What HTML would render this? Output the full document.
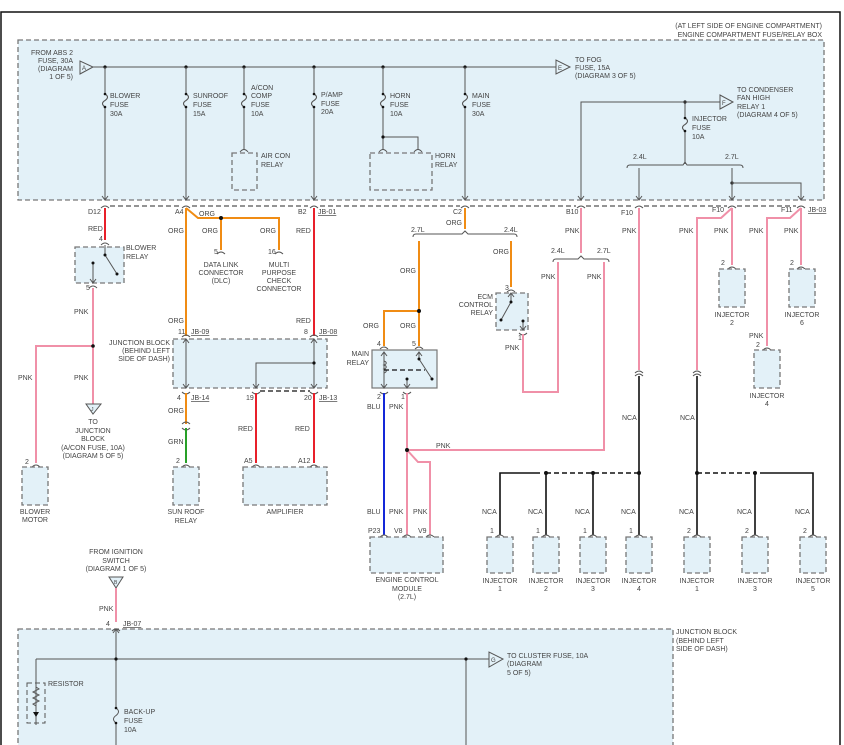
<!DOCTYPE html>
<html><head><meta charset="utf-8"><style>
html,body{margin:0;padding:0;background:#fff}
svg{display:block}
text{font-family:"Liberation Sans",sans-serif;font-size:7px;fill:#444}
.bx{fill:#e3f1f8;stroke:#777;stroke-width:1.3;stroke-dasharray:5,3}
.g{stroke:#555;stroke-width:1;fill:none}
.k{stroke:#111;stroke-width:1.6;fill:none}
.r{stroke:#e8202a;stroke-width:2;fill:none}
.o{stroke:#f08c14;stroke-width:2;fill:none}
.p{stroke:#f090a8;stroke-width:2;fill:none}
.b{stroke:#1428d8;stroke-width:2;fill:none}
.gr{stroke:#28a028;stroke-width:2;fill:none}
.d{stroke:#555;stroke-width:1.3;stroke-dasharray:5,3;fill:none}
.dk{stroke:#111;stroke-width:1.6;stroke-dasharray:5,3;fill:none}
.c{text-anchor:middle}
.e{text-anchor:end}
</style></head><body>
<svg width="844" height="745" viewBox="0 0 844 745" xmlns="http://www.w3.org/2000/svg">
<rect x="1" y="12" width="839" height="740" fill="#fff" stroke="#111" stroke-width="1.5"/>
<rect class="bx" x="18" y="40" width="806" height="160"/>
<text class="e" x="822" y="28">(AT LEFT SIDE OF ENGINE COMPARTMENT)</text>
<text class="e" x="822" y="37">ENGINE COMPARTMENT FUSE/RELAY BOX</text>
<text class="e" x="73" y="55">FROM ABS 2</text><text class="e" x="73" y="63">FUSE, 30A</text><text class="e" x="73" y="71">(DIAGRAM</text><text class="e" x="73" y="79">1 OF 5)</text>
<polygon points="80,61 80,74 93,67" fill="#e3f1f8" stroke="#555"/><text x="82" y="70" style="font-size:6px">A</text>
<line class="g" x1="93" y1="67" x2="556" y2="67"/>
<polygon points="556,60 556,74 570,67" fill="#e3f1f8" stroke="#555"/><text x="558" y="70" style="font-size:6px">E</text>
<text x="575" y="62">TO FOG</text><text x="575" y="70">FUSE, 15A</text><text x="575" y="78">(DIAGRAM 3 OF 5)</text>
<g fill="#111">
<circle cx="105" cy="67" r="1.6"/><circle cx="186" cy="67" r="1.6"/><circle cx="244" cy="67" r="1.6"/><circle cx="314" cy="67" r="1.6"/><circle cx="383" cy="67" r="1.6"/><circle cx="465" cy="67" r="1.6"/>
</g>
<g class="g">
<path d="M105 67V94 M105 107V200 M102 196L105 200L108 196"/>
<path d="M186 67V94 M186 107V200 M183 196L186 200L189 196"/>
<path d="M244 67V94 M244 107V150"/>
<path d="M314 67V94 M314 107V200 M311 196L314 200L317 196"/>
<path d="M383 67V94 M383 107V150 M383 137H418V150"/>
<path d="M465 67V94 M465 107V200 M462 196L465 200L468 196"/>
<path d="M685 102V118 M685 131V164"/>
</g>
<g class="g" style="stroke-width:1.1">
<path d="M105 94q5 3 0 6.5q-5 3 0 6.5"/><path d="M186 94q5 3 0 6.5q-5 3 0 6.5"/><path d="M244 94q5 3 0 6.5q-5 3 0 6.5"/><path d="M314 94q5 3 0 6.5q-5 3 0 6.5"/><path d="M383 94q5 3 0 6.5q-5 3 0 6.5"/><path d="M465 94q5 3 0 6.5q-5 3 0 6.5"/><path d="M685 118q5 3 0 6.5q-5 3 0 6.5"/>
</g>
<g fill="#111">
<circle cx="105" cy="94" r="1.3"/><circle cx="105" cy="107" r="1.3"/><circle cx="186" cy="94" r="1.3"/><circle cx="186" cy="107" r="1.3"/><circle cx="244" cy="94" r="1.3"/><circle cx="244" cy="107" r="1.3"/><circle cx="314" cy="94" r="1.3"/><circle cx="314" cy="107" r="1.3"/><circle cx="383" cy="94" r="1.3"/><circle cx="383" cy="107" r="1.3"/><circle cx="465" cy="94" r="1.3"/><circle cx="465" cy="107" r="1.3"/><circle cx="685" cy="118" r="1.3"/><circle cx="685" cy="131" r="1.3"/><circle cx="383" cy="137" r="1.6"/><circle cx="685" cy="102" r="1.6"/><circle cx="732" cy="183" r="1.6"/>
</g>
<text x="110" y="98">BLOWER</text><text x="110" y="107">FUSE</text><text x="110" y="116">30A</text>
<text x="193" y="98">SUNROOF</text><text x="193" y="107">FUSE</text><text x="193" y="116">15A</text>
<text x="251" y="90">A/CON</text><text x="251" y="98">COMP</text><text x="251" y="107">FUSE</text><text x="251" y="116">10A</text>
<text x="321" y="97">P/AMP</text><text x="321" y="106">FUSE</text><text x="321" y="114">20A</text>
<text x="390" y="98">HORN</text><text x="390" y="107">FUSE</text><text x="390" y="116">10A</text>
<text x="472" y="98">MAIN</text><text x="472" y="107">FUSE</text><text x="472" y="116">30A</text>
<rect class="bx" x="232" y="153" width="25" height="37"/><text x="261" y="158">AIR CON</text><text x="261" y="167">RELAY</text>
<rect class="bx" x="370" y="153" width="62" height="37"/><text x="435" y="158">HORN</text><text x="435" y="167">RELAY</text>
<path class="g" d="M240 152q4 -5 8 0 M379 152q4 -5 8 0 M414 152q4 -5 8 0"/>
<path class="g" d="M581 200V102H720 M578 196L581 200L584 196"/>
<polygon points="720,95 720,109 733,102" fill="#e3f1f8" stroke="#555"/><text x="722" y="105" style="font-size:6px">F</text>
<text x="737" y="92">TO CONDENSER</text><text x="737" y="100">FAN HIGH</text><text x="737" y="109">RELAY 1</text><text x="737" y="117">(DIAGRAM 4 OF 5)</text>
<text x="692" y="121">INJECTOR</text><text x="692" y="130">FUSE</text><text x="692" y="139">10A</text>
<path class="g" d="M627 168q0 -3 3 -3H683l2 -3l2 3H740q3 0 3 3"/>
<text x="633" y="159">2.4L</text><text x="725" y="159">2.7L</text>
<path class="g" d="M639 168V200 M636 196L639 200L642 196 M732 168V200 M729 196L732 200L735 196 M732 183H801V200 M798 196L801 200L804 196"/>
<path class="d" d="M110 206H180 M192 206H308 M320 206H460 M470 206H576 M586 206H634 M644 206H727 M737 206H796"/>
<path class="g" d="M101 208q4 -4 8 0 M182 208q4 -4 8 0 M310 208q4 -4 8 0 M461 208q4 -4 8 0 M577 208q4 -4 8 0 M635 208q4 -4 8 0 M728 208q4 -4 8 0 M797 208q4 -4 8 0"/>
<text x="88" y="214">D12</text><text x="175" y="214">A4</text><text x="298" y="214">B2</text><text x="318" y="214" text-decoration="underline">JB-01</text>
<text x="453" y="214">C2</text><text x="566" y="214">B10</text><text x="621" y="215">F10</text><text x="712" y="212">F10</text><text x="781" y="212">F11</text><text x="808" y="212" text-decoration="underline">JB-03</text>
<path class="r" d="M105 208V240"/>
<text x="88" y="231">RED</text><text x="99" y="241">4</text>
<rect class="bx" x="75" y="247" width="49" height="36"/>
<text x="126" y="250">BLOWER</text><text x="126" y="259">RELAY</text>
<path class="g" d="M101 245q4 -4 8 0 M105 245V255 L117 274 M93 263V283 M90 279L93 283L96 279"/>
<g fill="#111"><circle cx="105" cy="255" r="1.5"/><circle cx="117" cy="274" r="1.5"/><circle cx="93" cy="263" r="1.5"/></g>
<path class="g" d="M89 288q4 -4 8 0"/><text x="86" y="290">5</text>
<path class="p" d="M93 288V404 M93 346H36V463"/>
<circle cx="93" cy="346" r="1.8" fill="#111"/>
<text x="74" y="314">PNK</text><text x="18" y="380">PNK</text><text x="74" y="380">PNK</text>
<polygon points="86,404 101,404 93,414" fill="#e3f1f8" stroke="#555"/><text x="91" y="411" style="font-size:5px">J</text>
<g class="c"><text x="93" y="424">TO</text><text x="93" y="433">JUNCTION</text><text x="93" y="441">BLOCK</text><text x="93" y="450">(A/CON FUSE, 10A)</text><text x="93" y="458">(DIAGRAM 5 OF 5)</text></g>
<path class="g" d="M32 467q4 -4 8 0"/><text x="25" y="464">2</text>
<rect class="bx" x="22" y="467" width="26" height="38"/>
<text class="c" x="35" y="514">BLOWER</text><text class="c" x="35" y="522">MOTOR</text>
<path class="o" d="M186 208V336 M186 208L198 218H279V250 M221 218V250"/>
<circle cx="221" cy="218" r="2" fill="#111"/>
<text x="199" y="216">ORG</text><text x="202" y="233">ORG</text><text x="260" y="233">ORG</text><text x="168" y="233">ORG</text>
<path class="g" d="M217 254q4 -4 8 0 M275 254q4 -4 8 0"/>
<text x="214" y="254">5</text><text x="268" y="254">16</text>
<g class="c"><text x="221" y="267">DATA LINK</text><text x="221" y="275">CONNECTOR</text><text x="221" y="283">(DLC)</text>
<text x="279" y="267">MULTI</text><text x="279" y="275">PURPOSE</text><text x="279" y="283">CHECK</text><text x="279" y="291">CONNECTOR</text></g>
<path class="r" d="M314 208V336"/>
<text x="296" y="233">RED</text><text x="296" y="323">RED</text><text x="168" y="323">ORG</text>
<rect class="bx" x="173" y="339" width="154" height="49"/>
<path class="g" d="M182 337q4 -4 8 0 M310 337q4 -4 8 0 M182 392q4 4 8 0 M252 392q4 4 8 0 M310 392q4 4 8 0"/>
<path class="g" d="M186 339V388 M183 343L186 339L189 343 M183 384L186 388L189 384 M314 339V388 M311 343L314 339L317 343 M311 384L314 388L317 384 M314 363H256V388 M253 384L256 388L259 384"/>
<circle cx="314" cy="363" r="1.6" fill="#111"/>
<path class="d" style="stroke:#111" d="M260 391H310"/>
<text x="178" y="334">11</text><text x="191" y="334" text-decoration="underline">JB-09</text><text x="304" y="334">8</text><text x="319" y="334" text-decoration="underline">JB-08</text>
<text class="e" x="170" y="345">JUNCTION BLOCK</text><text class="e" x="170" y="353">(BEHIND LEFT</text><text class="e" x="170" y="361">SIDE OF DASH)</text>
<text x="177" y="400">4</text><text x="191" y="400" text-decoration="underline">JB-14</text><text x="246" y="400">19</text><text x="304" y="400">20</text><text x="319" y="400" text-decoration="underline">JB-13</text>
<path class="o" d="M186 393V424"/><path class="g" d="M182 424q4 -4 8 0 M182 428q4 4 8 0"/><path class="gr" d="M186 428V463"/>
<text x="168" y="413">ORG</text><text x="168" y="444">GRN</text>
<path class="g" d="M182 467q4 -4 8 0"/><text x="176" y="463">2</text>
<rect class="bx" x="173" y="467" width="26" height="38"/>
<text class="c" x="186" y="514">SUN ROOF</text><text class="c" x="186" y="523">RELAY</text>
<path class="r" d="M256 393V463 M314 393V463"/>
<text x="238" y="431">RED</text><text x="295" y="431">RED</text>
<path class="g" d="M252 467q4 -4 8 0 M310 467q4 -4 8 0"/>
<text x="244" y="463">A5</text><text x="298" y="463">A12</text>
<rect class="bx" x="243" y="467" width="84" height="38"/>
<text class="c" x="285" y="514">AMPLIFIER</text>
<path class="o" d="M465 208V229"/>
<text x="446" y="225">ORG</text>
<path class="g" d="M413 237q0 -3 3 -3H462l3 -3l3 3H514q3 0 3 3"/>
<text x="411" y="232">2.7L</text><text x="504" y="232">2.4L</text>
<path class="o" d="M419 241V346 M419 311H384V346 M511 241V287"/>
<circle cx="419" cy="311" r="2" fill="#111"/>
<text x="400" y="273">ORG</text><text x="493" y="254">ORG</text><text x="363" y="328">ORG</text><text x="400" y="328">ORG</text>
<path class="g" d="M380 349q4 -4 8 0 M415 349q4 -4 8 0 M507 292q4 -4 8 0"/>
<text x="377" y="346">4</text><text x="412" y="346">5</text><text x="505" y="290">3</text>
<rect x="372" y="350" width="65" height="38" fill="#e3f1f8" stroke="#777" stroke-width="1.2"/>
<text class="e" x="369" y="356">MAIN</text><text class="e" x="369" y="365">RELAY</text>
<path class="g" d="M384 352V388 M381 356L384 352L387 356 M381 384L384 388L387 384 M419 352V359 L432 379 M416 356L419 352L422 356 M407 379V388 M404 384L407 388L410 384"/>
<path class="g" d="M384 361c3 1 3 3 0 4c3 1 3 3 0 4c3 1 3 3 0 4"/>
<path class="dk" style="stroke-width:1.2" d="M384 370H425"/>
<g fill="#111"><circle cx="419" cy="359" r="1.5"/><circle cx="432" cy="379" r="1.5"/><circle cx="407" cy="379" r="1.5"/></g>
<path class="g" d="M380 392q4 4 8 0 M403 392q4 4 8 0"/>
<text x="377" y="399">2</text><text x="401" y="399">1</text>
<text x="367" y="409">BLU</text><text x="389" y="409">PNK</text>
<path class="b" d="M384 393V535"/>
<path class="p" d="M407 393V535 M407 450L418 462H430V535 M407 450H604V262"/>
<circle cx="407" cy="450" r="2" fill="#111"/>
<text x="436" y="448">PNK</text>
<text x="367" y="514">BLU</text><text x="389" y="514">PNK</text><text x="413" y="514">PNK</text>
<path class="g" d="M380 537q4 -4 8 0 M403 537q4 -4 8 0 M426 537q4 -4 8 0"/>
<text x="368" y="533">P23</text><text x="394" y="533">V8</text><text x="418" y="533">V9</text>
<rect class="bx" x="370" y="537" width="73" height="36"/>
<g class="c"><text x="407" y="582">ENGINE CONTROL</text><text x="407" y="591">MODULE</text><text x="407" y="599">(2.7L)</text></g>
<rect class="bx" x="496" y="293" width="32" height="37"/>
<text class="e" x="493" y="299">ECM</text><text class="e" x="493" y="307">CONTROL</text><text class="e" x="493" y="315">RELAY</text>
<path class="g" d="M511 293V302 L501 320 M508 297L511 293L514 297 M523 321V330 M520 326L523 330L526 326 M519 333q4 4 8 0"/>
<g fill="#111"><circle cx="511" cy="302" r="1.5"/><circle cx="501" cy="320" r="1.5"/><circle cx="523" cy="321" r="1.5"/></g>
<text x="518" y="340">1</text><text x="505" y="350">PNK</text>
<path class="p" d="M523 334V392H558V262 M581 208V253"/>
<path class="g" d="M553 262q0 -3 3 -3H578l3 -3l3 3H606q3 0 3 3"/>
<text x="551" y="253">2.4L</text><text x="597" y="253">2.7L</text>
<text x="565" y="233">PNK</text><text x="541" y="279">PNK</text><text x="587" y="279">PNK</text>
<path class="p" d="M639 208V370 M732 208L721 218H697V370 M732 208V265 M801 208L790 218H767V346 M801 208V265"/>
<text x="622" y="233">PNK</text><text x="679" y="233">PNK</text><text x="714" y="233">PNK</text><text x="749" y="233">PNK</text><text x="784" y="233">PNK</text>
<path class="g" d="M635 373q4 -4 8 0 M635 376q4 -4 8 0 M693 373q4 -4 8 0 M693 376q4 -4 8 0"/>
<path class="k" d="M639 376V535 M697 376V535"/>
<text x="622" y="420">NCA</text><text x="680" y="420">NCA</text>
<path class="g" d="M728 269q4 -4 8 0 M797 269q4 -4 8 0 M763 350q4 -4 8 0"/>
<text x="721" y="265">2</text><text x="790" y="265">2</text><text x="756" y="347">2</text><text x="749" y="338">PNK</text>
<rect class="bx" x="719" y="269" width="26" height="38"/><rect class="bx" x="789" y="269" width="26" height="38"/><rect class="bx" x="754" y="350" width="26" height="38"/>
<g class="c"><text x="732" y="317">INJECTOR</text><text x="732" y="325">2</text><text x="802" y="317">INJECTOR</text><text x="802" y="325">6</text><text x="767" y="398">INJECTOR</text><text x="767" y="406">4</text></g>
<path class="k" d="M500 535V473H540 M546 473V535 M593 473V535 M755 473V535 M760 473H813V535"/>
<path class="dk" d="M546 473H639 M697 473H755"/>
<g fill="#111"><circle cx="546" cy="473" r="2"/><circle cx="593" cy="473" r="2"/><circle cx="639" cy="473" r="2"/><circle cx="697" cy="473" r="2"/><circle cx="755" cy="473" r="2"/></g>
<g>
<text x="482" y="514">NCA</text><text x="528" y="514">NCA</text><text x="575" y="514">NCA</text><text x="621" y="514">NCA</text><text x="679" y="514">NCA</text><text x="737" y="514">NCA</text><text x="795" y="514">NCA</text>
<text x="490" y="533">1</text><text x="536" y="533">1</text><text x="583" y="533">1</text><text x="629" y="533">1</text><text x="687" y="533">2</text><text x="745" y="533">2</text><text x="803" y="533">2</text>
</g>
<path class="g" d="M496 537q4 -4 8 0 M542 537q4 -4 8 0 M589 537q4 -4 8 0 M635 537q4 -4 8 0 M693 537q4 -4 8 0 M751 537q4 -4 8 0 M809 537q4 -4 8 0"/>
<rect class="bx" x="487" y="537" width="26" height="36"/><rect class="bx" x="533" y="537" width="26" height="36"/><rect class="bx" x="580" y="537" width="26" height="36"/><rect class="bx" x="626" y="537" width="26" height="36"/><rect class="bx" x="684" y="537" width="26" height="36"/><rect class="bx" x="742" y="537" width="26" height="36"/><rect class="bx" x="800" y="537" width="26" height="36"/>
<g class="c">
<text x="500" y="583">INJECTOR</text><text x="500" y="591">1</text><text x="546" y="583">INJECTOR</text><text x="546" y="591">2</text><text x="593" y="583">INJECTOR</text><text x="593" y="591">3</text><text x="639" y="583">INJECTOR</text><text x="639" y="591">4</text>
<text x="697" y="583">INJECTOR</text><text x="697" y="591">1</text><text x="755" y="583">INJECTOR</text><text x="755" y="591">3</text><text x="813" y="583">INJECTOR</text><text x="813" y="591">5</text>
</g>
<g class="c"><text x="116" y="554">FROM IGNITION</text><text x="116" y="563">SWITCH</text><text x="116" y="571">(DIAGRAM 1 OF 5)</text></g>
<polygon points="109,577 123,577 116,588" fill="#e3f1f8" stroke="#555"/><text x="114" y="584" style="font-size:5px">B</text>
<path class="p" d="M116 588V622"/>
<text x="99" y="611">PNK</text><text x="106" y="626">4</text><text x="123" y="626" text-decoration="underline">JB-07</text>
<rect class="bx" x="18" y="629" width="655" height="130"/>
<path class="g" d="M112 631q4 -4 8 0"/>
<text x="676" y="634">JUNCTION BLOCK</text><text x="676" y="643">(BEHIND LEFT</text><text x="676" y="651">SIDE OF DASH)</text>
<path class="g" d="M116 629V708 M116 723V745 M36 659H489 M466 659V745 M36 659V725 M113 633L116 629L119 633"/>
<path class="g" d="M116 708q5 3.5 0 7.5q-5 3.5 0 7.5"/>
<g fill="#111"><circle cx="116" cy="659" r="1.6"/><circle cx="466" cy="659" r="1.6"/><circle cx="116" cy="708" r="1.3"/><circle cx="116" cy="723" r="1.3"/></g>
<polygon points="489,652 489,667 503,659" fill="#e3f1f8" stroke="#555"/><text x="491" y="662" style="font-size:6px">G</text>
<text x="507" y="658">TO CLUSTER FUSE, 10A</text><text x="507" y="666">(DIAGRAM</text><text x="507" y="675">5 OF 5)</text>
<rect class="d" x="27" y="683" width="18" height="40" style="stroke-width:1"/>
<path class="g" d="M36 687l3 2l-6 3l6 3l-6 3l6 3l-6 3l3 2"/>
<polygon points="33,712 39,712 36,717" fill="#111"/>
<text x="48" y="686">RESISTOR</text>
<text x="124" y="714">BACK-UP</text><text x="124" y="723">FUSE</text><text x="124" y="732">10A</text>
</svg>
</body></html>
